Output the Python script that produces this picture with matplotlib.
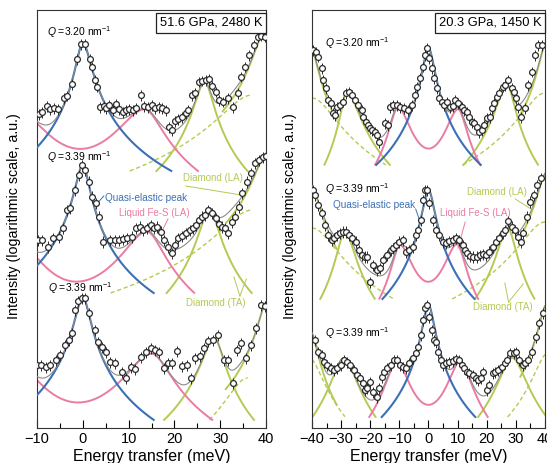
import numpy as np
import matplotlib
matplotlib.use("Agg")
import matplotlib.pyplot as plt
from matplotlib.ticker import MultipleLocator, NullLocator

plt.rcParams['font.family'] = ['Liberation Sans', 'DejaVu Sans']
plt.rcParams['mathtext.fontset'] = 'custom'
plt.rcParams['mathtext.rm'] = 'Liberation Sans'
plt.rcParams['mathtext.it'] = 'Liberation Sans:italic'

LOG_K = 2.5    # log-intensity units per e-fold (component shapes)
SUM_K = 1.3    # softness of the combined fit curve
LA_SPAN = 9.0  # energy range over which the diamond LA lines are drawn

# ---------------- Left panel: 51.6 GPa, 2480 K ----------------
L1_E = [-9.56, -8.83, -7.88, -7.15, -6.2, -5.32, -4.0, -3.35, -2.4, -1.3, -0.42, 0.38, 1.48, 2.0, 2.58, 3.1,
        3.82, 4.55, 5.13, 5.79, 6.52, 7.25, 7.99, 8.72, 9.45, 10.18, 10.91, 11.64, 12.8, 13.47, 14.27, 15.0,
        15.73, 16.61, 17.35, 18.08, 18.8, 19.54, 20.1, 20.86, 21.7, 22.46, 23.0, 23.8, 24.5, 25.4, 26.1, 26.9,
        27.6, 28.3, 29.0, 29.8, 30.66, 31.6, 32.9, 33.8, 34.5, 35.5, 36.3, 37.4, 38.2, 39.0, 39.8]
L1_Y = [31.4, 31.6, 32.2, 31.9, 32.0, 31.9, 33.0, 33.2, 34.4, 36.9, 38.4, 38.4, 36.9, 36.1, 34.8, 34.1,
        32.1, 32.2, 32.0, 32.3, 31.8, 32.4, 31.9, 31.6, 31.8, 31.9, 31.8, 32.0, 33.3, 32.2, 32.1, 32.3,
        32.0, 32.1, 32.0, 31.8, 30.1, 29.8, 30.7, 30.9, 31.1, 31.5, 31.8, 33.3, 33.5, 34.6, 34.7, 34.8,
        34.9, 34.2, 33.6, 32.8, 32.6, 33.0, 32.1, 33.5, 35.1, 36.1, 37.3, 38.3, 39.1, 39.2, 39.1]
L1_QE = [(0.0, 38.5, 1.25, 1.5)]                       # centre, peak, left/right half-width
L1_FES = [(-13.5, 31.3, 3.3, 4.9), (13.5, 31.8, 4.9, 3.3)]
L1_TA = [(26.6, 34.6, 1.8, 1.6)]
L1_LA = [(39.5, 39.3, 2.0, 2.0)]
L1_DASH = [(37.0, 33.3, 6.0, 6.0)]
L1_FLOOR = 25.7

L2_E = [-9.7, -8.8, -7.5, -6.4, -5.3, -4.4, -3.5, -2.8, -1.8, -0.9, -0.2, 0.5, 1.3, 2.1, 2.9, 3.6, 4.5, 6.0,
        7.0, 7.8, 8.7, 9.7, 10.8, 11.6, 12.4, 13.1, 14.1, 14.8, 15.5, 16.2, 17.0, 17.7, 18.7, 19.4, 20.1,
        20.8, 21.7, 22.5, 23.3, 24.1, 24.8, 25.4, 26.1, 26.7, 27.4, 28.2, 29.0, 29.8, 30.5, 31.1, 31.8, 32.5,
        33.3, 34.0, 34.7, 35.8, 36.7, 37.7, 38.5, 39.4, 39.9]
L2_Y = [18.8, 18.8, 18.1, 19.0, 19.1, 20.0, 21.8, 22.0, 23.8, 25.3, 26.3, 25.8, 24.6, 23.1, 22.5, 21.1, 18.6,
        18.8, 18.8, 18.8, 18.9, 19.0, 19.1, 20.0, 20.1, 19.8, 20.0, 20.3, 20.0, 20.1, 19.6, 18.8, 18.1, 17.5,
        18.3, 19.0, 19.2, 19.5, 19.8, 20.0, 20.3, 20.8, 21.1, 21.3, 21.8, 21.5, 21.0, 20.4, 20.1, 20.0, 19.5,
        20.6, 21.1, 22.1, 23.5, 24.6, 25.5, 26.5, 26.8, 27.1, 27.2]
L2_QE = [(0.0, 26.3, 1.35, 1.2)]
L2_FES = [(-14.0, 18.3, 3.05, 4.35), (14.0, 19.6, 4.35, 3.05)]
L2_TA = [(27.6, 21.8, 1.8, 1.8)]
L2_LA = [(40.3, 27.5, 2.3, 2.3)]
L2_DASH = [(37.0, 21.8, 6.0, 6.0)]
L2_FLOOR = 13.5

L3_E = [-9.9, -9.05, -8.1, -7.1, -5.9, -5.0, -3.9, -3.1, -2.4, -1.7, -1.1, -0.2, 0.5, 1.3, 2.6, 3.4, 4.2, 5.1,
        6.0, 7.0, 8.6, 9.4, 10.6, 11.5, 12.8, 13.7, 14.8, 15.7, 16.6, 17.7, 18.6, 19.4, 20.6, 21.7, 22.8,
        23.7, 24.6, 25.5, 26.5, 27.4, 28.5, 29.5, 30.9, 31.7, 32.8, 33.6, 34.5, 35.6, 36.7, 37.8, 38.8, 39.7]
L3_Y = [6.3, 6.3, 6.1, 6.3, 6.8, 7.3, 8.3, 8.8, 9.5, 11.8, 12.7, 13.0, 13.0, 11.5, 9.8, 8.6, 8.1, 7.6,
        6.6, 6.5, 5.6, 5.0, 6.1, 5.9, 7.1, 7.6, 8.0, 7.8, 7.6, 6.0, 6.5, 6.5, 7.7, 6.2, 6.3,
        5.0, 7.0, 7.2, 8.0, 8.7, 8.8, 9.3, 6.8, 6.8, 4.5, 7.8, 8.5, 7.0, 8.3, 10.0, 12.3, 12.2]
L3_QE = [(0.0, 13.1, 1.42, 1.33)]
L3_FES = [(-15.0, 6.5, 3.47, 4.59), (15.0, 7.4, 4.59, 3.47)]
L3_TA = [(28.7, 9.0, 2.17, 1.72)]
L3_LA = [(40.2, 12.6, 1.6, 1.6)]
L3_DASH = [(36.0, 5.0, 4.0, 4.0)]
L3_FLOOR = 0.8

# ---------------- Right panel: 20.3 GPa, 1450 K ----------------
R1_E = [-39.8, -38.7, -37.9, -36.7, -36.1, -35.2, -34.4, -33.6, -32.9, -32.1, -31.3, -30.4, -29.3, -28.4,
        -27.2, -26.1, -25.3, -24.1, -22.9, -22.4, -21.5, -20.7, -20.1, -19.5, -18.4, -17.8, -16.9, -15.0,
        -13.8, -13.2, -12.1, -10.9, -9.8, -8.4, -6.9, -5.8, -4.6, -3.8, -2.9, -2.0, -1.2, -0.6, 0.2, 1.1,
        1.9, 2.8, 3.7, 4.5, 5.3, 6.2, 7.4, 8.3, 9.1, 10.2, 11.4, 12.2, 13.1, 14.0, 14.8, 15.6, 16.6, 17.5,
        18.3, 19.1, 20.0, 21.1, 21.7, 22.5, 23.4, 24.3, 25.5, 26.3, 27.4, 28.6, 29.4, 30.1, 30.9, 31.7,
        33.2, 34.3, 35.5, 36.6, 37.7, 38.9]
R1_Y = [37.8, 37.6, 37.1, 36.0, 34.8, 34.0, 32.8, 32.5, 31.5, 31.3, 32.1, 32.3, 32.6, 33.5, 33.6, 33.3,
        32.8, 32.3, 31.8, 31.1, 30.6, 30.3, 30.0, 29.8, 29.6, 29.3, 28.6, 30.5, 30.3, 32.1, 32.3, 32.3,
        32.1, 32.0, 31.8, 32.3, 33.3, 34.1, 35.0, 36.1, 37.3, 38.0, 37.0, 36.0, 35.0, 34.0, 33.0, 32.6,
        32.3, 32.6, 32.1, 32.2, 32.8, 32.5, 32.1, 31.8, 31.6, 31.1, 30.6, 30.5, 30.1, 29.6, 29.8, 30.3,
        31.0, 31.1, 32.0, 32.5, 33.1, 33.5, 34.1, 34.3, 34.8, 34.0, 33.6, 33.0, 32.1, 31.1, 32.0, 34.3,
        35.6, 37.3, 38.3, 38.3]
R1_QE = [(0.0, 38.0, 1.74, 1.74)]
R1_FES = [(-10.5, 32.0, 2.45, 3.5), (10.2, 31.8, 3.5, 2.45)]
R1_TA = [(-28.0, 33.5, 1.9, 3.6), (27.0, 34.3, 3.1, 2.2)]
R1_LA = [(-40.5, 38.0, 2.2, 2.2), (40.5, 38.5, 2.2, 2.2)]
R1_DASH = [(-40.0, 33.0, 6.9, 6.9), (40.0, 33.5, 6.9, 6.9)]
R1_FLOOR = 26.3

R2_E = [-39.8, -39.0, -37.9, -36.7, -35.6, -34.4, -33.3, -32.5, -31.3, -30.4, -29.3, -28.4, -27.2, -26.1,
        -24.9, -23.8, -23.0, -21.8, -21.0, -20.1, -19.0, -17.8, -16.7, -15.5, -14.1, -13.0, -12.1, -11.2,
        -10.0, -8.9, -7.7, -6.6, -5.2, -4.3, -3.5, -2.7, -1.8, -1.2, -0.4, 0.3, 1.7, 2.6, 3.7, 4.9, 6.0,
        7.2, 8.3, 9.5, 10.6, 11.7, 12.5, 13.3, 14.3, 15.4, 16.6, 17.7, 18.6, 19.8, 20.9, 22.1, 23.2, 24.3,
        25.5, 26.3, 27.4, 28.6, 29.7, 30.9, 31.7, 32.6, 33.7, 34.9, 36.3, 37.4, 38.5]
R2_Y = [23.8, 23.3, 22.3, 21.5, 20.3, 19.3, 18.8, 19.0, 19.3, 19.5, 19.6, 19.6, 19.3, 19.0, 18.6, 17.8,
        17.3, 17.1, 17.1, 14.6, 16.3, 15.8, 16.0, 16.8, 17.3, 17.8, 18.0, 18.3, 18.6, 18.8, 17.6, 17.8,
        18.1, 19.3, 19.8, 20.8, 22.8, 23.8, 23.8, 22.5, 20.8, 19.8, 19.3, 18.6, 18.5, 18.7, 18.8, 19.0,
        18.8, 18.3, 17.8, 17.5, 17.2, 17.1, 17.1, 17.3, 17.4, 17.3, 17.6, 18.1, 18.6, 19.0, 19.5, 19.8,
        20.7, 20.1, 19.8, 19.1, 18.6, 19.5, 21.1, 22.6, 23.3, 24.3, 25.0]
R2_QE = [(0.0, 23.8, 1.8, 1.8)]
R2_FES = [(-9.8, 18.2, 2.4, 3.57), (9.8, 18.3, 3.57, 2.4)]
R2_TA = [(-28.7, 19.6, 2.3, 2.8), (27.2, 20.0, 2.8, 2.3)]
R2_LA = [(-40.5, 24.3, 2.6, 2.6), (40.5, 25.5, 2.6, 2.6)]
R2_DASH = [(-40.0, 20.0, 7.0, 7.0), (40.0, 20.6, 7.0, 7.0)]
R2_FLOOR = 12.9

R3_E = [-39.0, -37.9, -36.7, -35.9, -34.8, -33.6, -32.5, -31.3, -30.2, -29.0, -27.9, -27.0, -25.6, -24.7,
        -23.5, -22.6, -21.8, -21.0, -20.1, -19.0, -17.8, -17.0, -16.1, -15.3, -14.1, -13.0, -11.9, -10.7,
        -9.8, -8.9, -7.7, -6.6, -5.2, -4.3, -3.5, -2.7, -1.8, -1.2, -0.4, 0.3, 1.1, 1.9, 2.6, 3.4, 4.2, 5.1,
        6.0, 7.2, 8.3, 9.5, 10.6, 11.4, 12.2, 13.1, 14.0, 15.2, 16.3, 17.1, 17.9, 18.8, 20.0, 20.9, 22.1,
        22.9, 24.0, 25.1, 26.3, 27.1, 28.0, 29.2, 30.1, 31.2, 32.4, 33.2, 34.3, 35.5, 36.9, 38.1, 39.2]
R3_Y = [8.8, 7.6, 7.3, 6.6, 6.3, 6.0, 5.8, 6.0, 6.3, 6.8, 6.6, 6.3, 5.8, 5.3, 5.0, 4.5, 3.8, 4.0, 4.6, 3.6,
        3.1, 4.0, 5.1, 5.6, 6.0, 6.3, 6.8, 6.8, 6.3, 6.1, 6.0, 6.5, 7.0, 7.5, 8.1, 9.3, 10.8, 12.0, 12.3,
        11.1, 9.8, 8.8, 8.6, 7.6, 6.8, 6.3, 6.5, 6.6, 6.7, 6.9, 6.8, 6.3, 6.0, 5.6, 5.5, 5.3, 5.0, 4.8, 5.0,
        5.6, 3.8, 4.3, 5.5, 5.6, 5.8, 6.1, 6.5, 6.8, 7.5, 7.5, 7.6, 6.8, 6.3, 6.5, 6.8, 7.6, 9.1, 10.5, 11.5]
R3_QE = [(0.0, 12.3, 1.72, 1.72)]
R3_FES = [(-10.9, 6.6, 3.13, 3.43), (10.9, 6.6, 3.43, 3.13)]
R3_TA = [(-29.0, 7.0, 3.5, 3.5), (28.8, 7.0, 3.8, 3.8)]
R3_LA = [(-40.5, 9.5, 2.2, 2.2), (40.5, 12.3, 2.2, 2.2)]
R3_DASH = [(-41.0, 7.0, 4.0, 4.0), (41.0, 7.5, 4.0, 4.0)]
R3_FLOOR = 1.1

PANEL_TITLES = ["51.6 GPa, 2480 K", "20.3 GPa, 1450 K"]
Q_LABELS = ["3.20", "3.39", "3.39"]

C_BLUE = '#3b70b6'
C_PINK = '#ec7ba3'
C_GREEN = '#b3cb52'
C_GREY = '#8a8a8a'
C_DATA = '#2b2b2b'


def lor(E, comp):
    c, h, wl, wr = comp
    w = np.where(E < c, wl, wr)
    return h - LOG_K * np.log1p(((E - c) / w) ** 2)


def logsum(curves, k):
    arr = np.vstack(curves)
    m = arr.max(axis=0)
    return m + k * np.log(np.exp((arr - m) / k).sum(axis=0))


def clip(y, floor):
    y = np.array(y, dtype=float)
    y[y < floor] = np.nan
    return y


def draw_spectrum(ax, xr, E, Y, qe, fes, ta, la, dash, floor):
    x = np.linspace(xr[0], xr[1], 900)
    qe_c = [lor(x, c) for c in qe]
    fes_c = logsum([lor(x, c) for c in fes], LOG_K)
    ta_c = [lor(x, c) for c in ta]
    la_c = [lor(x, c) for c in la]
    dash_c = [lor(x, c) for c in dash]
    total = logsum(qe_c + [fes_c] + ta_c + la_c + dash_c, SUM_K)
    for d, comp in zip(dash_c, dash):
        d = clip(d, floor)
        # only the side facing the elastic line is drawn
        d[np.abs(x) > abs(comp[0])] = np.nan
        ax.plot(x, d, color=C_GREEN, lw=1.0, ls=(0, (3, 2)), zorder=2)
    for d in ta_c:
        ax.plot(x, clip(d, floor), color=C_GREEN, lw=1.4, zorder=2)
    for d, comp in zip(la_c, la):
        d = clip(d, floor)
        d[np.abs(x - comp[0]) > LA_SPAN] = np.nan
        ax.plot(x, d, color=C_GREEN, lw=1.4, zorder=2)
    ax.plot(x, clip(fes_c, floor), color=C_PINK, lw=1.4, zorder=2)
    for d in qe_c:
        ax.plot(x, clip(d, floor), color=C_BLUE, lw=1.5, zorder=3)
    ax.plot(x, total, color=C_GREY, lw=0.8, zorder=3)
    ax.errorbar(E, Y, yerr=0.55, fmt='o', ms=4.2, mfc='white', mec=C_DATA, mew=0.9,
                ecolor=C_DATA, elinewidth=0.7, capsize=0, zorder=4)


fig = plt.figure(figsize=(5.47, 4.63), dpi=100)
axL = fig.add_axes([37 / 547, 35 / 463, 229 / 547, 418 / 463])
axR = fig.add_axes([312 / 547, 35 / 463, 233 / 547, 418 / 463])

left_sets = [(L1_E, L1_Y, L1_QE, L1_FES, L1_TA, L1_LA, L1_DASH, L1_FLOOR),
             (L2_E, L2_Y, L2_QE, L2_FES, L2_TA, L2_LA, L2_DASH, L2_FLOOR),
             (L3_E, L3_Y, L3_QE, L3_FES, L3_TA, L3_LA, L3_DASH, L3_FLOOR)]
right_sets = [(R1_E, R1_Y, R1_QE, R1_FES, R1_TA, R1_LA, R1_DASH, R1_FLOOR),
              (R2_E, R2_Y, R2_QE, R2_FES, R2_TA, R2_LA, R2_DASH, R2_FLOOR),
              (R3_E, R3_Y, R3_QE, R3_FES, R3_TA, R3_LA, R3_DASH, R3_FLOOR)]

for ax, sets, xr, title in [(axL, left_sets, (-10, 40), PANEL_TITLES[0]),
                            (axR, right_sets, (-40, 40), PANEL_TITLES[1])]:
    for s in sets:
        draw_spectrum(ax, xr, *s)
    ax.set_xlim(*xr)
    ax.set_ylim(0, 41.8)
    ax.xaxis.set_major_locator(MultipleLocator(10))
    ax.xaxis.set_minor_locator(MultipleLocator(5))
    ax.yaxis.set_major_locator(NullLocator())
    ax.tick_params(axis='x', which='major', direction='in', length=6, width=0.8,
                   labelsize=10.5, pad=3, top=False)
    ax.tick_params(axis='x', which='minor', direction='in', length=3.5, width=0.8, top=False)
    for sp in ax.spines.values():
        sp.set_linewidth(0.8)
        sp.set_color('#333333')
    ax.set_xlabel("Energy transfer (meV)", fontsize=11.5, va='center')
    ax.xaxis.set_label_coords(0.5, -0.069)
    ax.set_ylabel("Intensity (logarithmic scale, a.u.)", fontsize=10.3, va='center')
    ax.text(0.985, 0.984, title, transform=ax.transAxes, ha='right', va='top', fontsize=9.3,
            bbox=dict(boxstyle='square,pad=0.3', fc='white', ec='#222222', lw=0.9), zorder=6)

axL.yaxis.set_label_coords(-0.10, 0.507)
axR.yaxis.set_label_coords(-0.094, 0.507)

# Q labels
for (xq, yq), q in zip([(-7.9, 39.6), (-7.9, 27.1), (-7.6, 14.0)], Q_LABELS):
    axL.text(xq, yq, r"$Q$ =" + q + r" nm$^{-1}$", fontsize=7.5, ha='left', va='center')
for (xq, yq), q in zip([(-35.6, 38.5), (-35.6, 23.9), (-35.6, 9.5)], Q_LABELS):
    axR.text(xq, yq, r"$Q$ =" + q + r" nm$^{-1}$", fontsize=7.5, ha='left', va='center')

# Component labels, left panel
axL.text(4.9, 23.0, "Quasi-elastic peak", color=C_BLUE, fontsize=7.2, ha='left', va='center')
axL.plot([4.6, 3.4], [23.2, 22.6], color=C_BLUE, lw=0.7)
axL.text(7.8, 21.5, "Liquid Fe-S (LA)", color=C_PINK, fontsize=7, ha='left', va='center')
axL.plot([18.6, 17.3], [20.9, 19.7], color=C_PINK, lw=0.7)
axL.text(21.8, 25.0, "Diamond (LA)", color=C_GREEN, fontsize=7, ha='left', va='center')
axL.plot([22.5, 34.6], [24.2, 23.3], color=C_GREEN, lw=0.7)
axL.text(22.5, 12.5, "Diamond (TA)", color=C_GREEN, fontsize=7, ha='left', va='center')
axL.plot([34.3, 33.0], [13.2, 15.1], color=C_GREEN, lw=0.7)
axL.plot([34.3, 35.7], [13.2, 14.9], color=C_GREEN, lw=0.7)

# Component labels, right panel
axR.text(-32.8, 22.3, "Quasi-elastic peak", color=C_BLUE, fontsize=7.2, ha='left', va='center')
axR.plot([-4.4, -2.5], [21.9, 20.3], color=C_BLUE, lw=0.7)
axR.text(4.0, 21.5, "Liquid Fe-S (LA)", color=C_PINK, fontsize=7, ha='left', va='center')
axR.plot([12.6, 10.1], [20.6, 18.0], color=C_PINK, lw=0.7)
axR.text(13.2, 23.6, "Diamond (LA)", color=C_GREEN, fontsize=7, ha='left', va='center')
axR.plot([29.8, 35.2], [22.9, 21.9], color=C_GREEN, lw=0.7)
axR.text(15.3, 12.1, "Diamond (TA)", color=C_GREEN, fontsize=7, ha='left', va='center')
axR.plot([27.5, 26.2], [12.6, 14.5], color=C_GREEN, lw=0.7)
axR.plot([27.5, 32.5], [12.6, 14.4], color=C_GREEN, lw=0.7)

fig.savefig("out.png", dpi=100)
